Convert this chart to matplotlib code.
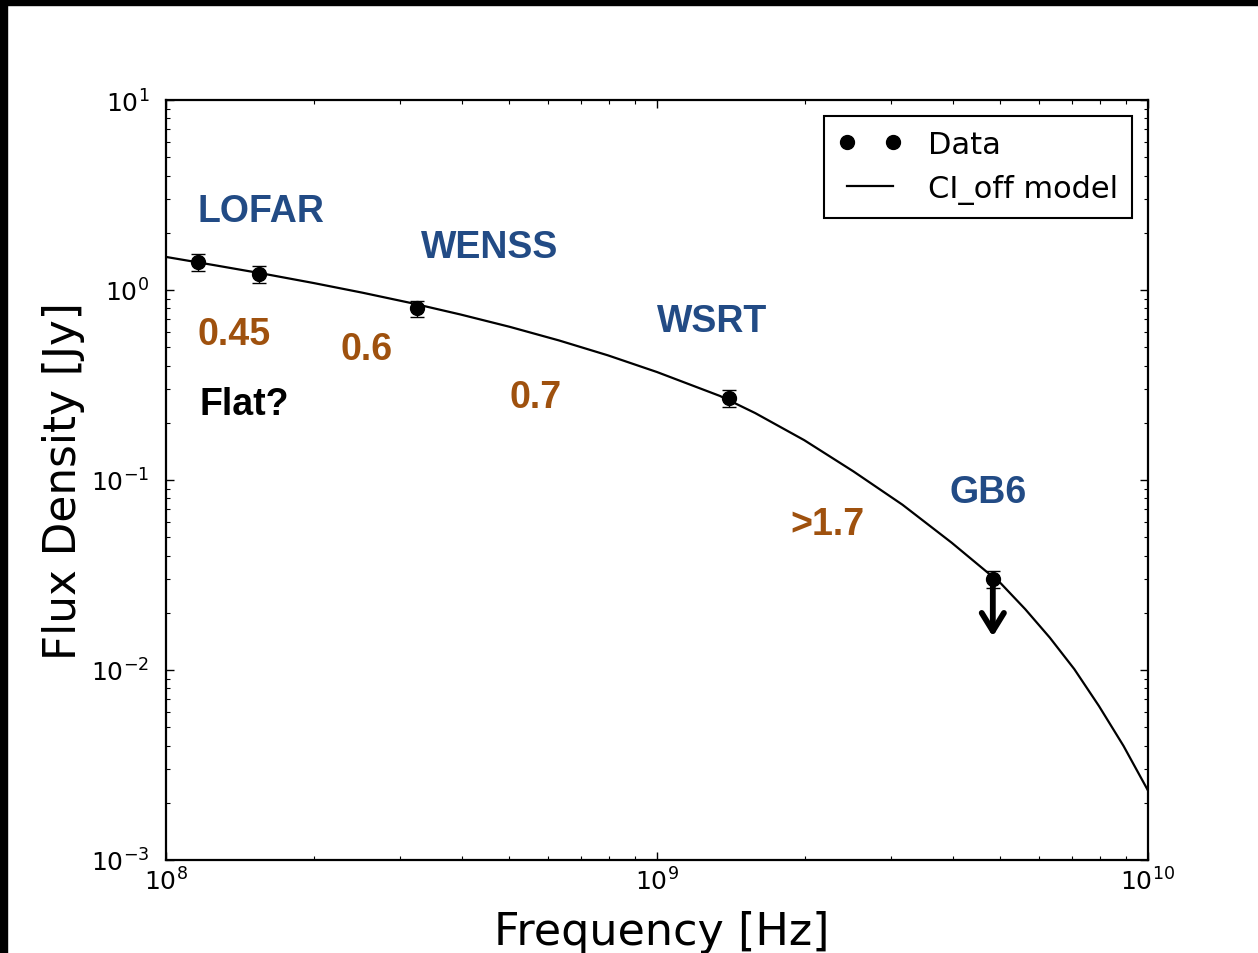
import matplotlib
matplotlib.use("Agg")
import matplotlib.pyplot as plt
from matplotlib.patches import Rectangle

### data
# measured fluxes (Hz, Jy)
freq = [1.16e8, 1.55e8, 3.25e8, 1.40e9, 4.83e9]
flux = [1.40, 1.21, 0.80, 0.27, 0.030]
flux_err = [0.14, 0.12, 0.08, 0.027, 0.003]
gb6_limit = 0.0150   # tip of the upper-limit arrow

# CI_off model curve, sampled
model_freq = [1.0e8, 1.259e8, 1.585e8, 1.995e8, 2.512e8, 3.162e8, 3.981e8,
              5.012e8, 6.310e8, 7.943e8, 1.0e9, 1.343e9, 1.585e9, 1.995e9,
              2.512e9, 3.162e9, 3.981e9, 4.831e9, 5.012e9, 5.623e9, 6.310e9,
              7.079e9, 7.943e9, 8.913e9, 1.0e10]
model_flux = [1.493, 1.349, 1.216, 1.089, 0.968, 0.853, 0.743,
              0.640, 0.543, 0.453, 0.370, 0.277, 0.225, 0.162,
              0.111, 0.0741, 0.0468, 0.0309, 0.0286, 0.0209, 0.0148,
              0.0101, 0.00647, 0.00399, 0.00232]

# survey names and spectral indices
surveys = ["LOFAR", "WENSS", "WSRT", "GB6"]
survey_x = [1.16e8, 3.30e8, 1.0e9, 3.94e9]
survey_y = [2.31, 1.49, 0.608, 0.0766]

alphas = ["0.45", "0.6", "0.7", ">1.7"]
alpha_x = [1.16e8, 2.27e8, 5.0e8, 1.87e9]
alpha_y = [0.520, 0.433, 0.242, 0.052]

blue = "#224b85"
brown = "#9f510e"

### plot
fig = plt.figure(figsize=(12.58, 9.54), dpi=100)
fig.subplots_adjust(left=166/1258, right=1148/1258, top=1-101/954, bottom=1-861/954)
ax = fig.add_subplot(111)

ax.errorbar(freq, flux, yerr=flux_err, fmt='none', ecolor='black',
            elinewidth=1.0, capsize=5, capthick=1.0)
ax.plot(freq, flux, 'o', color='black', markersize=10, label='Data')
ax.plot(model_freq, model_flux, '-', color='black', lw=1.6, label='CI_off model')

# GB6 upper limit
ax.annotate('', xy=(freq[-1], gb6_limit), xytext=(freq[-1], flux[-1]),
            arrowprops=dict(arrowstyle='->, head_length=1.3, head_width=0.8',
                            lw=4.2, color='black', shrinkA=0, shrinkB=0))

for name, x, y in zip(surveys, survey_x, survey_y):
    ax.text(x, y, name, color=blue, fontsize=27, fontweight='bold',
            family='Liberation Sans', ha='left', va='baseline')
for a, x, y in zip(alphas, alpha_x, alpha_y):
    ax.text(x, y, a, color=brown, fontsize=27, fontweight='bold',
            family='Liberation Sans', ha='left', va='baseline')
ax.text(1.17e8, 0.222, "Flat?", color='black', fontsize=27, fontweight='bold',
        family='Liberation Sans', ha='left', va='baseline')

ax.set_xscale('log')
ax.set_yscale('log')
ax.set_xlim(1e8, 1e10)
ax.set_ylim(1e-3, 1e1)

for s in ax.spines.values():
    s.set_linewidth(1.6)
ax.tick_params(which='both', direction='in', top=True, right=True)
ax.tick_params(which='major', length=5.8, width=1.0, labelsize=18)
ax.tick_params(which='minor', length=3.0, width=0.8)
ax.tick_params(axis='x', which='major', pad=5)
ax.tick_params(axis='y', which='major', pad=12)

ax.set_xlabel("Frequency [Hz]", fontsize=32, va='top')
ax.set_ylabel("Flux Density [Jy]", fontsize=31.5)
ax.xaxis.set_label_coords(0.505, -0.0655)
ax.yaxis.set_label_coords(-0.0825, 0.5)

leg = ax.legend(loc='upper right', numpoints=2, fontsize=22, fancybox=False,
                framealpha=1, edgecolor='black', handlelength=2.1,
                borderaxespad=0.52, handletextpad=0.85, borderpad=0.45)
leg.get_frame().set_linewidth(1.5)

# dark border strips along top and left
fig.patches.append(Rectangle((0, 1 - 6/954), 1, 6/954, transform=fig.transFigure,
                             color='black', zorder=10))
fig.patches.append(Rectangle((0, 0), 7/1258, 1, transform=fig.transFigure,
                             color='black', zorder=10))

fig.savefig("out.png", dpi=100)
